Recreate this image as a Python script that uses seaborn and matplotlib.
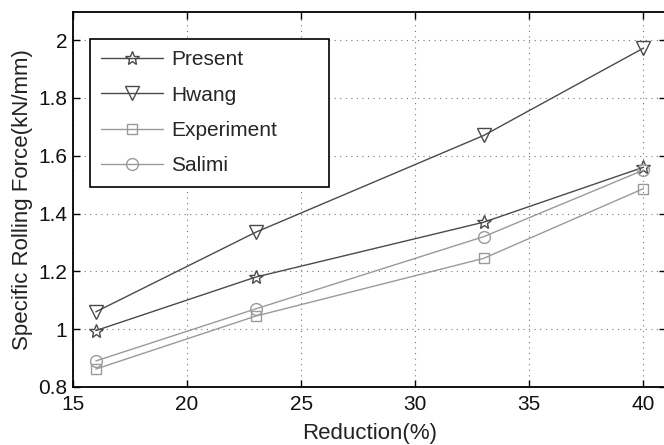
import matplotlib
matplotlib.use("Agg")
import matplotlib.pyplot as plt
import seaborn as sns
import pandas as pd

# Rolling force vs. thickness reduction
reduction = [16, 23, 33, 40]
present = [0.995, 1.18, 1.37, 1.56]
hwang = [1.06, 1.335, 1.67, 1.972]
experiment = [0.862, 1.045, 1.245, 1.486]
salimi = [0.89, 1.07, 1.32, 1.55]

series_names = ["Present", "Hwang", "Experiment", "Salimi"]
series_values = [present, hwang, experiment, salimi]
x_ticks = [15, 20, 25, 30, 35, 40]
y_ticks = [0.8, 1.0, 1.2, 1.4, 1.6, 1.8, 2.0]
y_tick_labels = ["0.8", "1", "1.2", "1.4", "1.6", "1.8", "2"]

styles = {
    "Present": dict(color="#4a4a4a", marker="*", ms=10),
    "Hwang": dict(color="#4a4a4a", marker="v", ms=10),
    "Experiment": dict(color="#9a9a9a", marker="s", ms=7.5),
    "Salimi": dict(color="#9a9a9a", marker="o", ms=8.5),
}

sns.set_style("ticks")
plt.rcParams["font.family"] = ["Liberation Sans", "DejaVu Sans"]
FS = 15

fig = plt.figure(figsize=(6.64, 4.45), dpi=100)
ax = fig.add_axes([73 / 664, 1 - 387 / 445, (666 - 73) / 664, (387 - 12) / 445])

for name, vals in zip(series_names, series_values):
    st = styles[name]
    df = pd.DataFrame({"x": reduction, "y": vals})
    sns.lineplot(data=df, x="x", y="y", ax=ax, color=st["color"], lw=1.0,
                 marker=st["marker"], markersize=st["ms"],
                 markerfacecolor="none", markeredgecolor=st["color"],
                 markeredgewidth=1.0, label=name)

ax.set_xlim(15, 40.99)
ax.set_ylim(0.8, 2.097)
ax.set_xticks(x_ticks)
ax.set_yticks(y_ticks)
ax.set_yticklabels(y_tick_labels)
ax.grid(True, linestyle=(0, (1, 4)), color="#777777", lw=0.8)
ax.tick_params(direction="in", top=True, right=True, labelsize=FS, length=5,
               width=1.0, colors="black", labelcolor="#111111")
ax.tick_params(axis="x", pad=5.5)
ax.tick_params(axis="y", pad=4)
for sp in ax.spines.values():
    sp.set_linewidth(1.3)
    sp.set_color("black")

ax.set_xlabel("Reduction(%)", fontsize=16, color="#222222", labelpad=6.5)
ax.set_ylabel("Specific Rolling Force(kN/mm)", fontsize=16, color="#222222", labelpad=4)

leg = ax.legend(loc="upper left", bbox_to_anchor=(17 / 593, 1 - 171 / 375, 239 / 593, 144 / 375),
                mode="expand", fontsize=FS, frameon=True, fancybox=False,
                edgecolor="black", framealpha=1, handlelength=2.95, borderpad=0.55,
                labelspacing=0.78, handletextpad=0.4, borderaxespad=0)
leg.get_frame().set_linewidth(1.2)

fig.savefig("out.png", dpi=100)
